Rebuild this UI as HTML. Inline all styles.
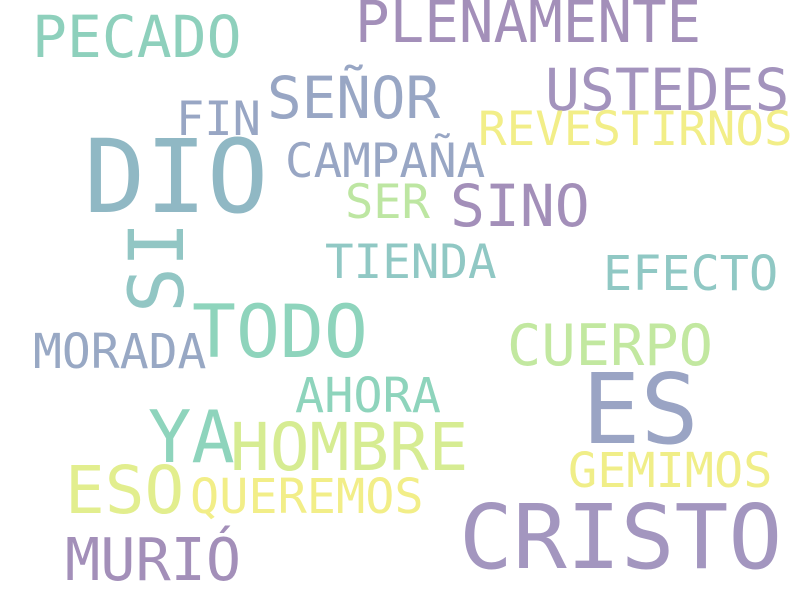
<!DOCTYPE html>
<html><head><meta charset="utf-8"><style>
html,body{margin:0;padding:0;background:#fff;}
svg{display:block;}
text{font-family:"DejaVu Sans Mono","Liberation Mono",monospace;}
</style></head><body>
<svg width="800" height="600" viewBox="0 0 800 600">
<rect width="800" height="600" fill="#fff"/>
<text x="32" y="57" font-size="58" fill="#8ed0bc">PECADO</text>
<text x="355" y="42" font-size="57.5" fill="#a38fb9">PLENAMENTE</text>
<text x="267" y="118" font-size="57.5" fill="#98a6c4">SEÑOR</text>
<text x="545" y="110" font-size="58" fill="#a393bd">USTEDES</text>
<text x="176" y="135" font-size="47" fill="#98a6c4">FIN</text>
<text x="478" y="145" font-size="47.5" fill="#f2ee88">REVESTIRNOS</text>
<text x="84" y="212" font-size="102" fill="#90b8c4">DIO</text>
<text x="285" y="177" font-size="47.5" fill="#98a6c4">CAMPAÑA</text>
<text x="345" y="218" font-size="47" fill="#bde6a2">SER</text>
<text x="450" y="226" font-size="58" fill="#a38fb9">SINO</text>
<text transform="translate(183,313) rotate(-90)" x="0" y="0" font-size="76" fill="#92c6c4">SI</text>
<text x="325" y="278" font-size="47.5" fill="#90c8c4">TIENDA</text>
<text x="603" y="290" font-size="48.5" fill="#90c8c4">EFECTO</text>
<text x="192" y="357" font-size="73" fill="#8ed4bc">TODO</text>
<text x="33" y="368" font-size="48" fill="#98a8c4">MORADA</text>
<text x="507" y="365" font-size="57" fill="#c2e8a0">CUERPO</text>
<text x="295" y="412" font-size="48.5" fill="#8ed4bc">AHORA</text>
<text x="582" y="443" font-size="97" fill="#9aa4c4">ES</text>
<text x="148" y="462" font-size="72" fill="#8ed4bc">YA</text>
<text x="230" y="470" font-size="66" fill="#d6ec92">HOMBRE</text>
<text x="65" y="513" font-size="66" fill="#e2ee8e">ESO</text>
<text x="190" y="513" font-size="48.5" fill="#f2ee88">QUEREMOS</text>
<text x="568" y="487" font-size="48.5" fill="#f0ee88">GEMIMOS</text>
<text x="459" y="568" font-size="89.5" fill="#a396bf">CRISTO</text>
<text x="65" y="580" font-size="58.5" fill="#a38fb9">MURIÓ</text>
</svg>
</body></html>
